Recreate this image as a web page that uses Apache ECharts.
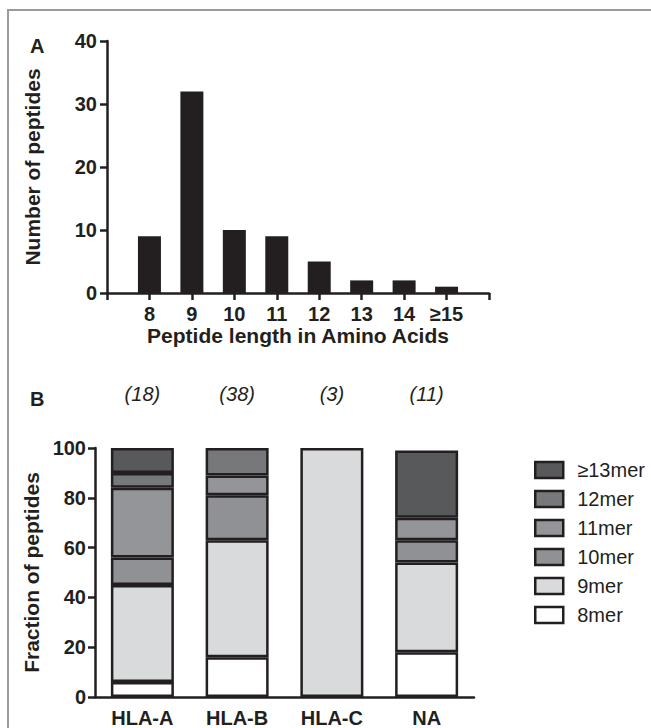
<!DOCTYPE html>
<html>
<head>
<meta charset="utf-8">
<script src="https://cdn.jsdelivr.net/npm/echarts@6/dist/echarts.min.js"></script>
<style>
  html, body { margin: 0; padding: 0; background: #fff; }
  #chart { width: 651px; height: 728px; }
</style>
</head>
<body>
<div id="chart"></div>
<script>
// panel A: peptide length distribution
const lengthValues = [8, 9, 10, 11, 12, 13, 14, 15];
const lengthLabels = ['8', '9', '10', '11', '12', '13', '14', '≥15'];
const peptideCounts = [9, 32, 10, 9, 5, 2, 2, 1];

// panel B: fraction of peptides per HLA allele
const alleles = ['HLA-A', 'HLA-B', 'HLA-C', 'NA'];
const alleleCounts = ['(18)', '(38)', '(3)', '(11)'];
const merNames = ['8mer', '9mer', '10mer', '11mer', '12mer', '≥13mer'];
const mer8 = [6, 16, 0, 18];
const mer9 = [39, 47, 100, 36];
const mer10 = [11, 18, 0, 9];
const mer11 = [28, 8, 0, 9];
const mer12 = [6, 11, 0, 0];
const mer13 = [10, 0, 0, 27];
const merColors = ['#ffffff', '#d9dadb', '#8f9194', '#939598', '#77787b', '#58595b'];

const ink = '#231f20';
const font = '"Liberation Sans", Arial, sans-serif';

let chart = echarts.init(document.getElementById('chart'), null, { renderer: 'svg' });

let merSeries = [mer8, mer9, mer10, mer11, mer12, mer13].map(function (values, i) {
    return {
        name: merNames[i],
        type: 'bar',
        stack: 'fraction',
        xAxisIndex: 1,
        yAxisIndex: 1,
        barWidth: 63,
        itemStyle: { color: merColors[i], borderColor: ink, borderWidth: 2.5 },
        data: values.map(function (v) { return v === 0 ? '-' : v; })
    };
});

let axisLine = { lineStyle: { color: ink, width: 2.5 } };
let axisTick = { length: 7, lineStyle: { color: ink, width: 2.5 } };
let tickText = { color: ink, fontFamily: font, fontWeight: 'bold', fontSize: 20 };

let option = {
    animation: false,
    textStyle: { fontFamily: font },
    graphic: [
        { type: 'rect', shape: { x: 8, y: 10, width: 700, height: 760 }, style: { fill: 'none', stroke: '#9a9a9a', lineWidth: 2 } },
        { type: 'text', left: 30, top: 36, style: { text: 'A', font: 'bold 20px ' + font, fill: ink } },
        { type: 'text', left: 30, top: 389, style: { text: 'B', font: 'bold 20px ' + font, fill: ink } }
    ],
    grid: [
        { left: 107, right: 162, top: 41, bottom: 435 },
        { left: 95, right: 177, top: 448, bottom: 28 }
    ],
    legend: {
        data: merNames.slice().reverse(),
        orient: 'vertical',
        left: 529,
        top: 455,
        icon: 'rect',
        itemWidth: 28,
        itemHeight: 16,
        itemGap: 9,
        selectedMode: false,
        itemStyle: { borderColor: ink, borderWidth: 2.5 },
        textStyle: { color: ink, fontFamily: font, fontSize: 20, padding: [0, 0, 0, 9] }
    },
    xAxis: [
        {
            gridIndex: 0,
            type: 'value',
            min: 7,
            max: 16,
            interval: 1,
            splitLine: { show: false },
            axisLine: axisLine,
            axisTick: axisTick,
            axisLabel: Object.assign({
                margin: 11,
                formatter: function (v) {
                    let i = lengthValues.indexOf(v);
                    return i >= 0 ? lengthLabels[i] : '';
                }
            }, tickText),
            name: 'Peptide length in Amino Acids',
            nameLocation: 'middle',
            nameGap: 28,
            nameTextStyle: { color: ink, fontWeight: 'bold', fontSize: 21 }
        },
        {
            gridIndex: 1,
            type: 'category',
            data: alleles,
            axisLine: axisLine,
            axisTick: Object.assign({ alignWithLabel: true }, axisTick),
            axisLabel: Object.assign({ margin: 11 }, tickText)
        },
        {
            gridIndex: 1,
            type: 'category',
            position: 'top',
            data: alleleCounts,
            axisLine: { show: false },
            axisTick: { show: false },
            axisLabel: { margin: 44, color: ink, fontFamily: font, fontStyle: 'italic', fontSize: 20 }
        }
    ],
    yAxis: [
        {
            gridIndex: 0,
            type: 'value',
            min: 0,
            max: 40,
            interval: 10,
            splitLine: { show: false },
            axisLine: Object.assign({ show: true }, axisLine),
            axisTick: Object.assign({ show: true }, axisTick),
            axisLabel: Object.assign({ margin: 10 }, tickText),
            name: 'Number of peptides',
            nameLocation: 'middle',
            nameGap: 64,
            nameTextStyle: { color: ink, fontWeight: 'bold', fontSize: 21 }
        },
        {
            gridIndex: 1,
            type: 'value',
            min: 0,
            max: 100,
            interval: 20,
            splitLine: { show: false },
            axisLine: Object.assign({ show: true }, axisLine),
            axisTick: Object.assign({ show: true }, axisTick),
            axisLabel: Object.assign({ margin: 9 }, tickText),
            name: 'Fraction of peptides',
            nameLocation: 'middle',
            nameGap: 52,
            nameTextStyle: { color: ink, fontWeight: 'bold', fontSize: 21 }
        }
    ],
    series: [
        {
            type: 'bar',
            xAxisIndex: 0,
            yAxisIndex: 0,
            barWidth: 23,
            itemStyle: { color: ink },
            data: lengthValues.map(function (v, i) { return [v, peptideCounts[i]]; })
        }
    ].concat(merSeries)
};

chart.setOption(option);
</script>
</body>
</html>
